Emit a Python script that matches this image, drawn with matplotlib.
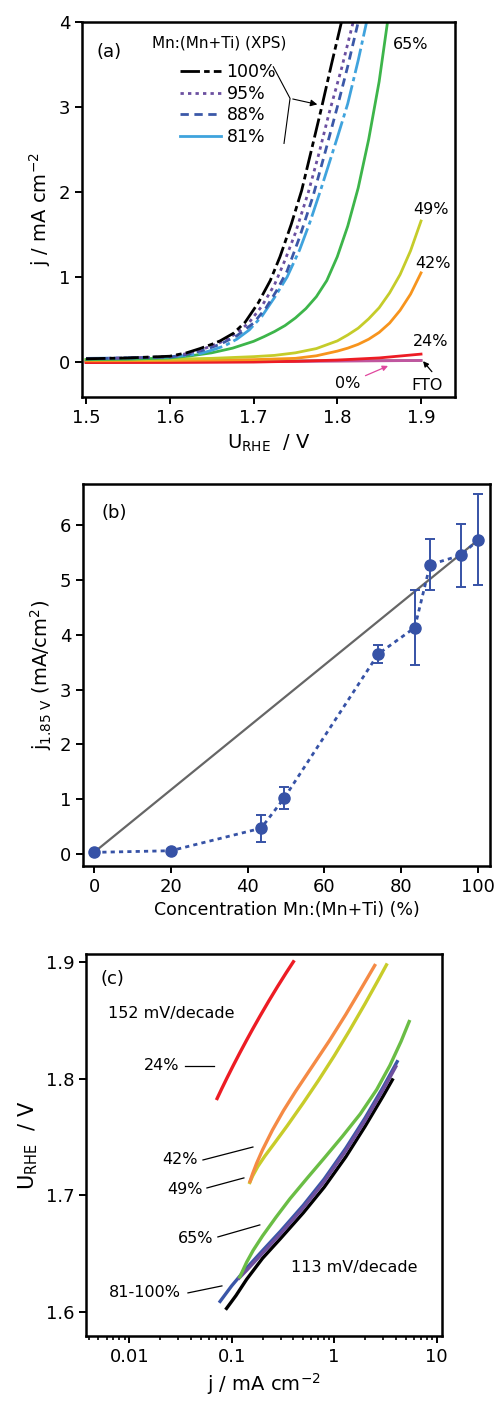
import matplotlib.pyplot as plt
from matplotlib.lines import Line2D

# ---- panel (a): j vs U_RHE ----
v_100 = [1.50, 1.55, 1.60, 1.62, 1.636, 1.65, 1.66, 1.676, 1.69, 1.7058, 1.72, 1.7316, 1.745, 1.7575, 1.77, 1.7814, 1.793, 1.805]
j_100 = [0.04, 0.05, 0.07, 0.11, 0.16, 0.21, 0.25, 0.34, 0.47, 0.70, 0.96, 1.24, 1.62, 2.02, 2.53, 3.00, 3.50, 4.00]
v_95 = [1.50, 1.55, 1.60, 1.62, 1.64, 1.66, 1.68, 1.695, 1.71, 1.725, 1.7376, 1.75, 1.7655, 1.778, 1.79, 1.805, 1.819]
j_95 = [0.04, 0.05, 0.065, 0.10, 0.155, 0.23, 0.34, 0.47, 0.66, 0.91, 1.20, 1.52, 2.00, 2.45, 2.92, 3.45, 4.00]
v_88 = [1.50, 1.55, 1.60, 1.62, 1.64, 1.66, 1.68, 1.70, 1.715, 1.7275, 1.74, 1.755, 1.771, 1.785, 1.80, 1.8125, 1.825]
j_88 = [0.04, 0.05, 0.06, 0.09, 0.14, 0.21, 0.31, 0.46, 0.64, 0.84, 1.07, 1.47, 1.95, 2.45, 3.00, 3.48, 4.00]
v_81 = [1.50, 1.55, 1.60, 1.62, 1.636, 1.65, 1.665, 1.68, 1.695, 1.71, 1.725, 1.74, 1.755, 1.7675, 1.78, 1.79, 1.80, 1.8125, 1.825, 1.835]
j_81 = [0.045, 0.05, 0.06, 0.08, 0.10, 0.14, 0.19, 0.27, 0.38, 0.54, 0.76, 1.00, 1.32, 1.65, 2.02, 2.33, 2.64, 3.04, 3.55, 4.00]
v_65 = [1.50, 1.55, 1.60, 1.625, 1.65, 1.675, 1.70, 1.7125, 1.725, 1.7375, 1.75, 1.7625, 1.775, 1.7875, 1.80, 1.8125, 1.825, 1.8375, 1.85, 1.86]
j_65 = [0.03, 0.035, 0.05, 0.075, 0.11, 0.165, 0.245, 0.30, 0.36, 0.43, 0.52, 0.63, 0.77, 0.96, 1.24, 1.60, 2.05, 2.62, 3.30, 4.00]
v_49 = [1.50, 1.55, 1.60, 1.65, 1.70, 1.725, 1.75, 1.775, 1.80, 1.8125, 1.825, 1.8375, 1.85, 1.8625, 1.875, 1.8875, 1.90]
j_49 = [0.03, 0.03, 0.035, 0.045, 0.065, 0.08, 0.11, 0.16, 0.25, 0.32, 0.40, 0.51, 0.64, 0.815, 1.03, 1.31, 1.66]
v_42 = [1.50, 1.60, 1.70, 1.75, 1.775, 1.80, 1.8125, 1.825, 1.8375, 1.85, 1.8625, 1.875, 1.8875, 1.90]
j_42 = [0.015, 0.02, 0.03, 0.045, 0.075, 0.13, 0.165, 0.21, 0.27, 0.35, 0.46, 0.61, 0.80, 1.05]
v_24 = [1.50, 1.60, 1.70, 1.75, 1.80, 1.85, 1.90]
j_24 = [-0.005, -0.003, 0.002, 0.01, 0.025, 0.05, 0.095]
v_0 = [1.50, 1.70, 1.90]
j_0 = [0.0, 0.005, 0.02]
v_fto = [1.50, 1.90]
j_fto = [0.01, 0.02]

# ---- panel (b): j at 1.85 V vs Mn content ----
conc = [0, 20, 43.5, 49.5, 74, 83.5, 87.5, 95.5, 100]
j185 = [0.03, 0.06, 0.47, 1.02, 3.65, 4.13, 5.28, 5.45, 5.73]
j185_err = [0, 0, 0.25, 0.20, 0.17, 0.69, 0.47, 0.57, 0.83]

# ---- panel (c): Tafel plots ----
tj_24 = [0.072, 0.08, 0.09, 0.1035, 0.12, 0.14, 0.16, 0.19, 0.23, 0.28, 0.34, 0.40]
tu_24 = [1.783, 1.7915, 1.8007, 1.8113, 1.8222, 1.8332, 1.8425, 1.8541, 1.8666, 1.879, 1.8908, 1.9003]
tj_42 = [0.151, 0.16, 0.175, 0.20, 0.25, 0.32, 0.42, 0.60, 0.90, 1.3, 1.8, 2.49]
tu_42 = [1.712, 1.7185, 1.7274, 1.739, 1.756, 1.7726, 1.7891, 1.8095, 1.8327, 1.8551, 1.876, 1.8971]
tj_49 = [0.150, 0.16, 0.18, 0.21, 0.26, 0.35, 0.50, 0.70, 1.0, 1.4, 2.0, 2.7, 3.24]
tu_49 = [1.711, 1.7166, 1.7248, 1.7335, 1.7444, 1.7599, 1.7793, 1.7983, 1.8195, 1.8407, 1.8642, 1.8848, 1.8976]
tj_65 = [0.12, 0.14, 0.162, 0.20, 0.27, 0.37, 0.55, 0.80, 1.2, 1.8, 2.6, 3.5, 4.5, 5.4]
tu_65 = [1.630, 1.6427, 1.6528, 1.6652, 1.6811, 1.697, 1.7151, 1.7319, 1.7504, 1.7698, 1.7906, 1.8113, 1.832, 1.849]
tj_81 = [0.077, 0.10, 0.14, 0.20, 0.30, 0.50, 0.80, 1.3, 2.0, 3.0, 4.12]
tu_81 = [1.609, 1.6224, 1.6377, 1.6526, 1.6693, 1.6915, 1.714, 1.7404, 1.7662, 1.7926, 1.8146]
tj_95 = [0.118, 0.14, 0.20, 0.30, 0.50, 0.80, 1.3, 2.0, 3.0, 4.0]
tu_95 = [1.629, 1.6357, 1.6504, 1.6671, 1.6893, 1.7118, 1.7382, 1.764, 1.7904, 1.8104]
tj_100 = [0.089, 0.11, 0.14, 0.20, 0.30, 0.50, 0.80, 1.3, 2.0, 3.0, 3.7]
tu_100 = [1.603, 1.614, 1.628, 1.646, 1.663, 1.685, 1.707, 1.733, 1.759, 1.785, 1.799]

plt.rcParams['font.family'] = 'DejaVu Sans'

fig = plt.figure(figsize=(4.98, 14.03), dpi=100)
ax_a = fig.add_axes([0.1647, 0.717, 0.749, 0.2673])
ax_b = fig.add_axes([0.1667, 0.3827, 0.8173, 0.2723])
ax_c = fig.add_axes([0.1727, 0.0478, 0.7149, 0.2722])

for ax in (ax_a, ax_b, ax_c):
    for s in ax.spines.values():
        s.set_linewidth(1.8)
    ax.tick_params(direction='out', width=1.4, length=5, labelsize=13)

# ---------- (a) ----------
lw = 2.0
dashdot = (7, 1.5, 2, 1.5)
ax_a.plot(v_fto, j_fto, color='#8a8a8a', lw=lw)
ax_a.plot(v_0, j_0, color='#c0569f', lw=lw)
ax_a.plot(v_24, j_24, color='#ed1c24', lw=lw)
ax_a.plot(v_42, j_42, color='#f7941d', lw=lw)
ax_a.plot(v_49, j_49, color='#c5cc2a', lw=lw)
ax_a.plot(v_65, j_65, color='#3db54a', lw=lw)
ax_a.plot(v_81, j_81, color='#3fa3dd', lw=lw, dashes=(9, 1.5, 1.5, 1.5))
ax_a.plot(v_88, j_88, color='#3b58a8', lw=lw, dashes=(3, 2))
ax_a.plot(v_95, j_95, color='#6b4fa0', lw=lw, dashes=(1.2, 1.5))
ax_a.plot(v_100, j_100, color='black', lw=lw, dashes=dashdot)

ax_a.set_xlim(1.4952, 1.9406)
ax_a.set_ylim(-0.41, 4.0)
ax_a.set_xticks([1.5, 1.6, 1.7, 1.8, 1.9])
ax_a.set_yticks([0, 1, 2, 3, 4])
ax_a.set_xlabel(r'U$_{\rm RHE}$  / V', fontsize=14)
ax_a.set_ylabel(r'j / mA cm$^{-2}$', fontsize=14)

handles = [Line2D([], [], color='black', lw=lw, dashes=dashdot),
           Line2D([], [], color='#6b4fa0', lw=lw, dashes=(1.2, 1.5)),
           Line2D([], [], color='#3b58a8', lw=lw, dashes=(3, 2)),
           Line2D([], [], color='#3fa3dd', lw=lw)]
ax_a.text(0.188, 0.944, 'Mn:(Mn+Ti) (XPS)', transform=ax_a.transAxes, fontsize=11, va='center')
ax_a.legend(handles, ['100%', '95%', '88%', '81%'],
            loc='upper left', bbox_to_anchor=(0.262, 0.89), frameon=False,
            fontsize=12.5, handlelength=2.4, handletextpad=0.3,
            labelspacing=0.2, borderaxespad=0, borderpad=0)

ax_a.text(0.04, 0.92, '(a)', transform=ax_a.transAxes, fontsize=13, va='center')
# bracket for the legend group
ax_a.plot([1.7236, 1.7436, 1.7364], [3.474, 3.102, 2.573], color='black', lw=0.8)
ax_a.annotate('', xy=(1.7794, 3.024), xytext=(1.7436, 3.102),
              arrowprops=dict(arrowstyle='-|>', color='black', lw=0.8, mutation_scale=10))
ax_a.text(1.8666, 3.73, '65%', fontsize=11.5, va='center')
ax_a.text(1.8905, 1.79, '49%', fontsize=11.5, va='center')
ax_a.text(1.893, 1.165, '42%', fontsize=11.5, va='center')
ax_a.text(1.8905, 0.247, '24%', fontsize=11.5, va='center')
ax_a.annotate('0%', xy=(1.8606, -0.044), xytext=(1.797, -0.25), fontsize=11.5, va='center',
              arrowprops=dict(arrowstyle='-|>', color='#e0479e', lw=0.9, mutation_scale=8,
                              shrinkA=2, shrinkB=0))
ax_a.annotate('FTO', xy=(1.9024, 0.012), xytext=(1.889, -0.27), fontsize=11.5, va='center',
              arrowprops=dict(arrowstyle='-|>', color='black', lw=0.9, mutation_scale=8,
                              shrinkA=3, shrinkB=0, relpos=(0.8, 1.0)))

# ---------- (b) ----------
blue = '#3652a6'
ax_b.plot([conc[0], conc[-1]], [j185[0], j185[-1]], color='#666666', lw=1.6)
ax_b.errorbar(conc, j185, yerr=j185_err, color=blue, lw=2.0, ls=(0, (1.5, 1.5)),
              marker='o', ms=8, capsize=3.5, elinewidth=1.4, capthick=1.4)
ax_b.set_xlim(-2.86, 103.1)
ax_b.set_ylim(-0.22, 6.75)
ax_b.set_xticks([0, 20, 40, 60, 80, 100])
ax_b.set_yticks([0, 1, 2, 3, 4, 5, 6])
ax_b.set_xlabel('Concentration Mn:(Mn+Ti) (%)', fontsize=12.5)
ax_b.set_ylabel(r'j$_{\rm 1.85\ V}$ (mA/cm$^{2}$)', fontsize=14)
ax_b.text(0.045, 0.925, '(b)', transform=ax_b.transAxes, fontsize=13, va='center')

# ---------- (c) ----------
lwc = 2.4
ax_c.plot(tj_100, tu_100, color='black', lw=lwc)
ax_c.plot(tj_81, tu_81, color='#3a56a8', lw=lwc)
ax_c.plot(tj_95, tu_95, color='#6e4f9e', lw=lwc)
ax_c.plot(tj_65, tu_65, color='#6abd45', lw=lwc)
ax_c.plot(tj_49, tu_49, color='#c8cc2a', lw=lwc)
ax_c.plot(tj_42, tu_42, color='#f58a45', lw=lwc)
ax_c.plot(tj_24, tu_24, color='#ed1c24', lw=lwc)
ax_c.set_xscale('log')
ax_c.set_xlim(0.00378, 11.3)
ax_c.set_ylim(1.5794, 1.9069)
ax_c.set_xticks([0.01, 0.1, 1, 10])
ax_c.set_xticklabels(['0.01', '0.1', '1', '10'])
ax_c.set_yticks([1.6, 1.7, 1.8, 1.9])
ax_c.tick_params(which='minor', direction='out', width=1.2, length=3)
ax_c.set_xlabel(r'j / mA cm$^{-2}$', fontsize=14)
ax_c.set_ylabel(r'U$_{\rm RHE}$  / V', fontsize=15)

ax_c.text(0.0052, 1.8854, '(c)', fontsize=13, va='center')
ax_c.text(0.0062, 1.8563, '152 mV/decade', fontsize=11.5, va='center')
ax_c.text(0.378, 1.6377, '113 mV/decade', fontsize=11.5, va='center')
leaders = [('24%', 0.0139, 1.8109, 0.035, 1.8109, 0.0671, 1.8109),
           ('42%', 0.0208, 1.7303, 0.0524, 1.7303, 0.161, 1.7414),
           ('49%', 0.0233, 1.7054, 0.0573, 1.7063, 0.1315, 1.7149),
           ('65%', 0.0299, 1.6626, 0.0733, 1.6643, 0.188, 1.6746),
           ('81-100%', 0.00634, 1.6163, 0.0374, 1.6163, 0.0802, 1.6223)]
for lab, tx, ty, x0, y0, x1, y1 in leaders:
    ax_c.text(tx, ty, lab, fontsize=11.5, va='center')
    ax_c.plot([x0, x1], [y0, y1], color='black', lw=0.9)

fig.savefig('out.png', dpi=100)
